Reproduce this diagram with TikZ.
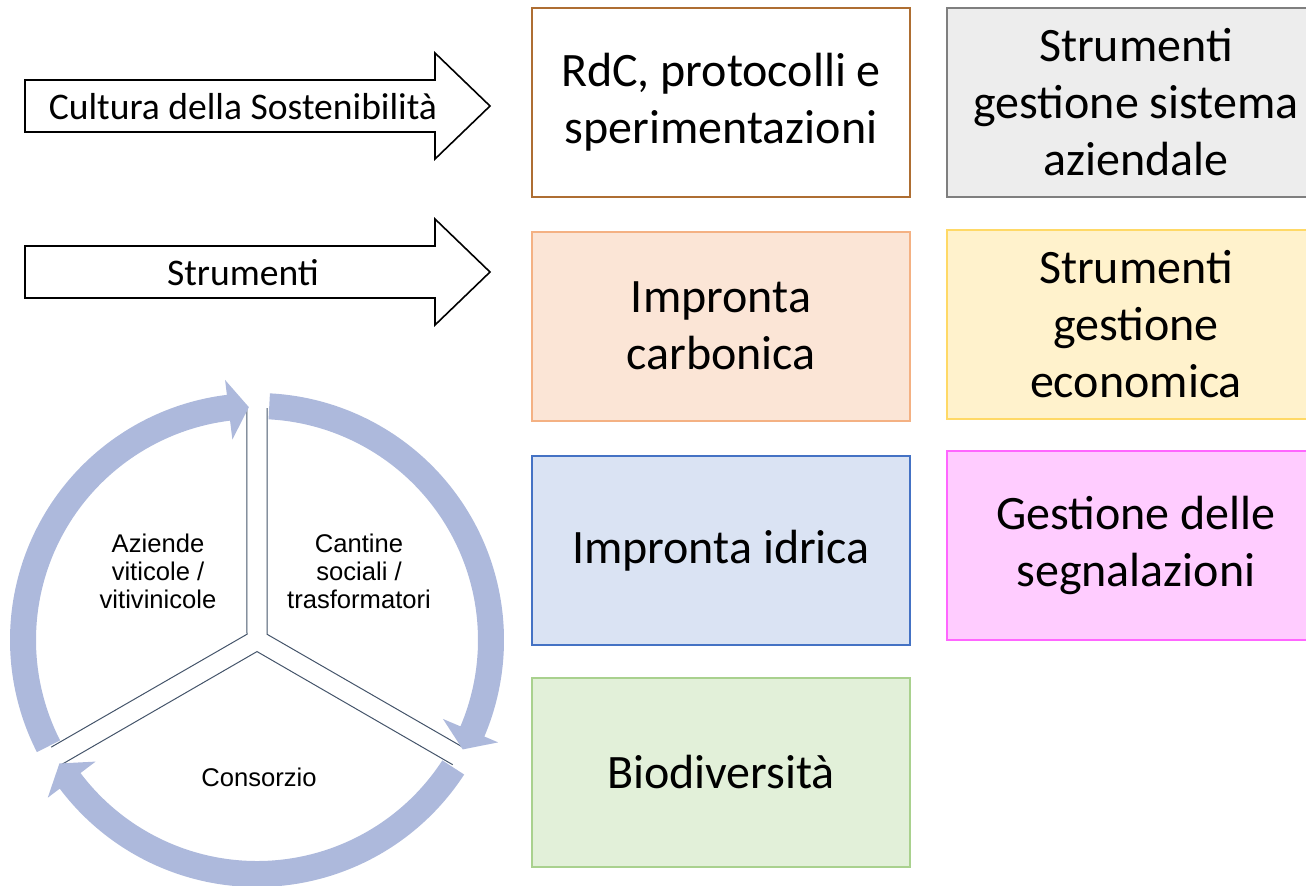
\documentclass[tikz,border=0pt]{standalone}
\usepackage{fontspec}
\setmainfont{Carlito}
\newfontfamily\arialfont{Liberation Sans}
\usepackage{tikz}
\usetikzlibrary{calc,positioning}

\definecolor{rdcline}{RGB}{174,110,50}
\definecolor{greyfill}{RGB}{237,237,237}
\definecolor{greyline}{RGB}{127,127,127}
\definecolor{carbfill}{RGB}{251,229,214}
\definecolor{carbline}{RGB}{244,177,131}
\definecolor{econfill}{RGB}{255,242,204}
\definecolor{econline}{RGB}{255,217,102}
\definecolor{idrfill}{RGB}{218,227,243}
\definecolor{idrline}{RGB}{68,114,196}
\definecolor{segnfill}{RGB}{255,204,255}
\definecolor{segnline}{RGB}{255,102,255}
\definecolor{biofill}{RGB}{226,240,217}
\definecolor{bioline}{RGB}{169,209,142}
\definecolor{ringblue}{RGB}{173,185,220}
\definecolor{wedgeline}{RGB}{68,84,106}

\begin{document}
\begin{tikzpicture}[x=0.5pt,y=0.5pt,
        box/.style={rectangle,draw,line width=1pt,minimum width=189pt,
          minimum height=94.5pt,align=center,
          font=\fontsize{24}{28.5}\selectfont},
        big arrow/.style={draw=black,fill=white,line width=0.8pt,line join=miter},
        arrow text/.style={font=\fontsize{18.8}{22}\selectfont},
        ring text/.style={align=center,font=\arialfont\fontsize{12.8}{14}\selectfont},
        sector/.style={draw=wedgeline,line width=0.5pt}]
        \useasboundingbox (0,0) rectangle (1306,-885);
        \clip (0,0) rectangle (1306,-885);

        % arrows on the left
        \draw[big arrow] (25,-80) -- (435,-80) -- (435,-53) -- (490,-106)
          -- (435,-159) -- (435,-132) -- (25,-132) -- cycle;
        \node[arrow text] (cultura) at (243,-107) {Cultura della Sostenibilità};
        \draw[big arrow] (25,-246) -- (435,-246) -- (435,-219) -- (490,-272)
          -- (435,-325) -- (435,-298) -- (25,-298) -- cycle;
        \node[arrow text] (strumenti) at (243,-273) {Strumenti};

        % boxes
        \node[box,draw=rdcline,fill=white] (rdc) at (721,-102.5)
          {RdC, protocolli e\\sperimentazioni};
        \node[box,draw=greyline,fill=greyfill] (sistema) at (1136,-102.5)
          {Strumenti\\gestione sistema\\aziendale};
        \node[box,draw=carbline,fill=carbfill] (carbonica) at (721,-326)
          {Impronta\\carbonica};
        \node[box,draw=econline,fill=econfill] (economica) at (1136,-324)
          {Strumenti\\gestione\\economica};
        \node[box,draw=idrline,fill=idrfill] (idrica) at (721,-550.5)
          {Impronta idrica};
        \node[box,draw=segnline,fill=segnfill] (segnalazioni) at (1136,-545.5)
          {Gestione delle\\segnalazioni};
        \node[box,draw=bioline,fill=biofill] (biodiv) at (721,-772)
          {Biodiversità};

        % cycle
        \begin{scope}[shift={(257,-640)}]
          \foreach \b in {150,30,270}
            \draw[sector] ({\b+57.5}:232) -- (\b:11.55) -- ({\b-57.5}:232);
          \foreach \t in {207,87,-33}
            \fill[ringblue] (\t:221) arc[start angle=\t,end angle=\t-110,radius=221]
              -- ({\t-110}:202) -- ({\t-115}:233) -- ({\t-110}:262)
              -- ({\t-110}:247) arc[start angle=\t-110,end angle=\t,radius=247]
              -- cycle;
        \end{scope}
        \node[ring text] (aziende) at (158,-571) {Aziende\\viticole /\\vitivinicole};
        \node[ring text] (cantine) at (359,-571) {Cantine\\sociali /\\trasformatori};
        \node[ring text] (consorzio) at (259,-777) {Consorzio};
\end{tikzpicture}
\end{document}
